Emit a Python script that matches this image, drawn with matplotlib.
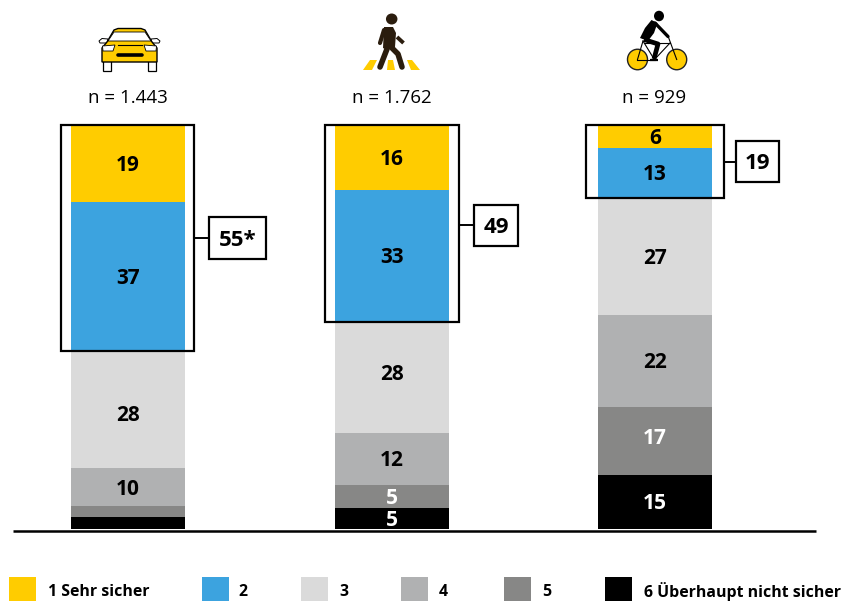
import matplotlib
matplotlib.use("Agg")
import matplotlib.pyplot as plt
from matplotlib.patches import Rectangle, Ellipse, Polygon

plt.rcParams['font.family'] = ['Open Sans', 'DejaVu Sans']

# share per answer
modes = ["car", "walk", "bike"]
sample_sizes = ["n = 1.443", "n = 1.762", "n = 929"]
car_values = [19.0, 37.0, 29.0, 9.4, 2.7, 2.9]
walk_values = [16.1, 32.7, 27.5, 12.9, 5.7, 5.2]
bike_values = [5.7, 12.4, 29.0, 22.8, 16.8, 13.4]
# printed labels differ a little from the drawn heights
car_labels = ["19", "37", "28", "10", "", ""]
walk_labels = ["16", "33", "28", "12", "5", "5"]
bike_labels = ["6", "13", "27", "22", "17", "15"]
top_two = ["55*", "49", "19"]
legend_labels = ["1 Sehr sicher", "2", "3", "4", "5", "6 Überhaupt nicht sicher"]

colors = ["#FFCC00", "#3CA3DF", "#DADADA", "#B0B1B2", "#878786", "#000000"]
label_colors = ["black", "black", "black", "black", "white", "white"]

W, H = 853, 601
PX_PER_PCT = 4.04
BASE_Y = 529
centers = [128, 392, 655]
BAR_W = 114

fig = plt.figure(figsize=(W / 100, H / 100), dpi=100)

# bars live in a percent scale, everything else in pixel coordinates
ax = fig.add_axes([0, 0, 1, 1])
ax.set_xlim(0, W)
ax.set_ylim(-(H - BASE_Y) / PX_PER_PCT, BASE_Y / PX_PER_PCT)
ax.axis("off")

px = fig.add_axes([0, 0, 1, 1])
px.set_xlim(0, W)
px.set_ylim(H, 0)
px.axis("off")
px.patch.set_alpha(0)

all_values = [car_values, walk_values, bike_values]
all_labels = [car_labels, walk_labels, bike_labels]
# label nudges in pixels, some labels sit off the segment centre
label_shift = [[2, 2, 6, 2, 0, 0], [2, 2, -3, 2, 2, 2], [2, 2, 2, 2, -2, 2]]

for c, vals, labs, shift in zip(centers, all_values, all_labels, label_shift):
    top = sum(vals)
    for v, lab, col, lc, s in zip(vals, labs, colors, label_colors, shift):
        ax.bar(c, v, width=BAR_W, bottom=top - v, color=col, linewidth=0)
        if lab:
            ax.text(c, top - v / 2 - s / PX_PER_PCT, lab, ha="center", va="center",
                    fontsize=15, fontweight="bold", color=lc)
        top -= v

px.plot([13, 816], [530.7, 530.7], color="black", lw=1.8, solid_capstyle="butt")

for c, n in zip([128, 392, 654], sample_sizes):
    px.text(c, 98, n, ha="center", va="center", fontsize=13.5, color="black")


def bracket(x0, x1, y0, y1, tx1, ty, bx0, bx1, by0, by1, text):
    px.add_patch(Rectangle((x0, y0), x1 - x0, y1 - y0, fill=False, ec="black", lw=1.6))
    px.plot([x1, tx1], [ty, ty], color="black", lw=1.4)
    px.add_patch(Rectangle((bx0, by0), bx1 - bx0, by1 - by0, fc="white", ec="black", lw=1.6))
    px.text((bx0 + bx1) / 2, (by0 + by1) / 2 + 2, text, ha="center", va="center",
            fontsize=16, fontweight="bold")


bracket(61.5, 194.5, 124.5, 351, 209, 238, 209, 266, 217, 259, top_two[0])
bracket(325.5, 459.5, 124.5, 322, 474, 225, 474, 518, 205, 246, top_two[1])
bracket(586, 724, 124.5, 198, 736, 162, 736, 779, 141, 182, top_two[2])

# legend
legend_x = [9, 202, 301, 401, 504, 605]
text_x = [48, 238, 339, 439, 542, 644]
for lx, tx, col, lab in zip(legend_x, text_x, colors, legend_labels):
    px.add_patch(Rectangle((lx, 577), 27, 24, fc=col, ec="none"))
    px.text(tx, 592, lab, ha="left", va="center", fontsize=11.4, fontweight="bold")

# car icon
px.add_patch(Rectangle((103, 60), 8, 11, fc="white", ec="black", lw=0.9))
px.add_patch(Rectangle((148, 60), 8, 11, fc="white", ec="black", lw=0.9))
px.add_patch(Polygon([(99, 41), (102, 38.5), (108, 39), (107, 43), (100, 43)], fc="white", ec="black", lw=0.7))
px.add_patch(Polygon([(160, 41), (157, 38.5), (151, 39), (152, 43), (159, 43)], fc="white", ec="black", lw=0.7))
px.add_patch(Polygon([(102, 62), (102, 48), (107, 42), (114, 30), (118, 28.5), (141, 28.5), (145, 30),
                      (152, 42), (157, 48), (157, 62)], fc="#FFCC00", ec="black", lw=1))
px.add_patch(Polygon([(108, 41), (114, 32), (145, 32), (151, 41)], fc="white", ec="black", lw=0.6))
px.add_patch(Polygon([(102.5, 46), (115, 45), (113, 51), (103, 51)], fc="white", ec="black", lw=0.6))
px.add_patch(Polygon([(156.5, 46), (144, 45), (146, 51), (156, 51)], fc="white", ec="black", lw=0.6))
px.plot([118, 142], [45, 45], color="black", lw=0.8)
px.plot([118, 142], [54.5, 54.5], color="black", lw=2.6, solid_capstyle="round")

# pedestrian icon
for pts in ([(370, 60), (377, 60), (372, 70), (363, 70)],
            [(388, 60), (393, 60), (395, 70), (387, 70)],
            [(407, 60), (412, 60), (420, 70), (411, 70)]):
    px.add_patch(Polygon(pts, fc="#FFCC00", ec="none"))
dark = "#2B1D0E"
px.add_patch(Ellipse((391.7, 19), 11.5, 11, fc=dark, ec="none"))
px.add_patch(Polygon([(384, 27), (393, 27), (396, 33), (395, 47), (387, 50), (383, 48)], fc=dark, ec="none"))
px.plot([384, 380], [30, 43], color=dark, lw=3, solid_capstyle="round")
px.plot([397, 403.5], [37, 43], color=dark, lw=2.8, solid_capstyle="butt")
px.plot([391, 398, 402], [47, 54, 67], color=dark, lw=4, solid_capstyle="round", solid_joinstyle="round")
px.plot([387, 380], [49, 67], color=dark, lw=4, solid_capstyle="round")

# bike icon
for wx in (637.5, 676.7):
    px.add_patch(Ellipse((wx, 59.5), 20, 20.5, fc="#FFCC00", ec="#222222", lw=1))
for a, b in [((637.5, 59.5), (643, 41)), ((643, 41), (654, 59)), ((637.5, 59.5), (655, 59.5)),
             ((644, 43), (670, 43)), ((655, 59), (670, 43)), ((668, 36), (676.7, 59.5))]:
    px.plot([a[0], b[0]], [a[1], b[1]], color="black", lw=0.8)
px.add_patch(Ellipse((659, 16), 10, 10.5, fc="black", ec="none"))
px.add_patch(Polygon([(651.5, 20), (657.5, 23), (654, 33), (648, 41), (640, 38), (645, 28)], fc="black", ec="none"))
px.plot([655, 668], [23, 36.5], color="black", lw=2.4, solid_capstyle="round")
px.plot([644, 658, 654], [39.5, 44, 59], color="black", lw=3.4, solid_capstyle="butt", solid_joinstyle="round")
px.plot([650, 658], [59.5, 59.5], color="black", lw=1.6, solid_capstyle="butt")

fig.savefig("out.png", dpi=100, facecolor="white")
